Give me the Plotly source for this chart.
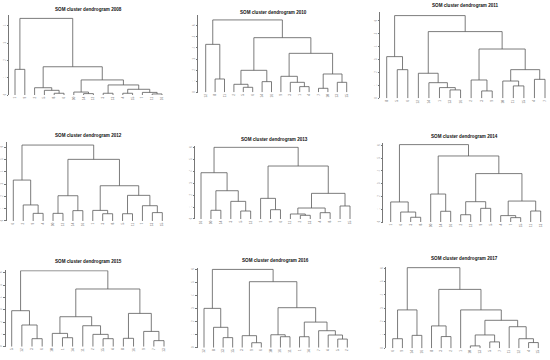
import plotly.graph_objects as go

# ---------------- data ----------------
years = [2008, 2010, 2011, 2012, 2013, 2014, 2015, 2016, 2017]

# merges: (left id, right id, height); ids 0..15 are leaves (display order), 16+ are merged clusters
merges_2008 = [(4, 5, 0.10), (3, 16, 0.27), (2, 17, 0.42), (7, 8, 0.08), (6, 19, 0.17),
               (9, 10, 0.10), (11, 12, 0.10), (14, 15, 0.06), (13, 23, 0.15), (22, 24, 0.33),
               (21, 25, 0.58), (20, 26, 0.87), (18, 27, 1.63), (0, 1, 1.48), (29, 28, 4.42)]
merges_2010 = [(1, 2, 1.20), (0, 16, 4.32), (4, 5, 0.45), (3, 18, 0.72), (6, 7, 0.96),
               (19, 20, 1.98), (10, 11, 0.51), (9, 22, 0.90), (8, 23, 1.44), (12, 13, 0.36),
               (14, 15, 0.90), (25, 26, 1.65), (24, 27, 3.51), (21, 28, 4.92), (17, 29, 6.52)]
merges_2011 = [(1, 2, 2.22), (0, 16, 3.23), (6, 7, 0.65), (5, 18, 0.83), (4, 19, 1.21),
               (3, 20, 1.94), (9, 10, 0.57), (8, 22, 1.42), (12, 13, 0.96), (11, 24, 1.34),
               (14, 15, 1.47), (25, 26, 2.22), (23, 27, 3.82), (21, 28, 5.17), (17, 29, 6.41)]
merges_2012 = [(2, 3, 0.62), (1, 16, 1.30), (0, 17, 3.32), (4, 5, 0.62), (6, 7, 0.84),
               (19, 20, 2.05), (9, 10, 0.59), (8, 22, 0.86), (11, 12, 0.59), (14, 15, 0.68),
               (13, 25, 1.24), (24, 26, 2.08), (23, 27, 2.86), (21, 28, 5.00), (18, 29, 6.16)]
merges_2013 = [(1, 2, 0.73), (4, 5, 0.67), (3, 17, 1.48), (16, 18, 2.37), (0, 19, 3.88),
               (7, 8, 0.78), (6, 21, 1.73), (10, 11, 0.31), (9, 23, 0.42), (12, 13, 0.53),
               (24, 25, 0.92), (14, 15, 1.09), (26, 27, 2.15), (22, 28, 4.44), (20, 29, 6.01)]
merges_2014 = [(2, 3, 0.37), (1, 16, 0.78), (0, 17, 1.57), (5, 6, 0.84), (4, 19, 2.19),
               (7, 8, 0.57), (9, 10, 1.07), (21, 22, 1.59), (12, 13, 0.34), (11, 24, 0.50),
               (14, 15, 0.86), (25, 26, 1.64), (23, 27, 3.79), (20, 28, 5.17), (18, 29, 6.06)]
merges_2015 = [(2, 3, 0.65), (1, 16, 1.76), (0, 17, 2.92), (5, 6, 0.73), (4, 19, 1.08),
               (9, 10, 0.65), (8, 21, 1.00), (7, 22, 1.70), (20, 23, 2.43), (11, 12, 0.68),
               (14, 15, 0.49), (13, 26, 1.24), (25, 27, 2.70), (24, 28, 4.68), (18, 29, 6.16)]
merges_2016 = [(2, 3, 0.77), (1, 16, 1.56), (0, 17, 3.01), (5, 6, 0.38), (4, 19, 0.92),
               (8, 9, 0.84), (7, 21, 0.99), (10, 11, 0.84), (14, 15, 0.66), (13, 24, 0.97),
               (12, 25, 1.30), (23, 26, 1.96), (22, 27, 3.06), (20, 28, 5.05), (18, 29, 5.99)]
merges_2017 = [(0, 1, 0.72), (2, 3, 0.97), (16, 17, 2.88), (5, 6, 0.88), (4, 19, 1.68),
               (8, 9, 0.18), (10, 11, 0.48), (21, 22, 1.00), (14, 15, 0.43), (13, 24, 0.72),
               (12, 25, 1.62), (23, 26, 2.10), (7, 27, 2.88), (20, 28, 4.42), (18, 29, 6.05)]

leaves_2008 = ["1", "9", "2", "5", "8", "6", "10", "14", "12", "3", "13", "4", "15", "7", "11", "16"]
leaves_2010 = ["12", "8", "11", "2", "5", "6", "14", "16", "9", "3", "1", "4", "7", "10", "13", "15"]
leaves_2011 = ["8", "5", "6", "12", "14", "1", "13", "16", "2", "3", "9", "10", "11", "15", "4", "7"]
leaves_2012 = ["6", "2", "9", "4", "10", "12", "14", "16", "1", "3", "8", "5", "11", "7", "13", "15"]
leaves_2013 = ["16", "10", "14", "3", "5", "12", "1", "9", "6", "11", "2", "13", "4", "8", "7", "15"]
leaves_2014 = ["1", "6", "3", "8", "10", "14", "16", "2", "12", "9", "5", "4", "7", "15", "11", "13"]
leaves_2015 = ["5", "12", "3", "6", "10", "1", "14", "11", "2", "15", "4", "8", "16", "9", "7", "13"]
leaves_2016 = ["12", "8", "13", "15", "3", "9", "6", "10", "16", "11", "1", "14", "7", "4", "5", "2"]
leaves_2017 = ["6", "9", "14", "16", "8", "3", "2", "1", "10", "13", "5", "7", "11", "12", "4", "15"]

ytick_top = [4, 6, 6, 6, 6, 6, 6, 6, 6]

all_merges = [merges_2008, merges_2010, merges_2011, merges_2012, merges_2013,
              merges_2014, merges_2015, merges_2016, merges_2017]
all_leaves = [leaves_2008, leaves_2010, leaves_2011, leaves_2012, leaves_2013,
              leaves_2014, leaves_2015, leaves_2016, leaves_2017]

# ---------------- layout geometry (pixels) ----------------
W, H = 550, 360
# axis x, first leaf x, last leaf x, leaf baseline y, px per height unit, top of axis (units), title x, title y
geom = [
    (9.0, 15.0, 162.0, 95.0, 17.33, 4.6, 88, 9),
    (198.3, 205.7, 346.7, 92.3, 11.1, 6.95, 273, 12.3),
    (380.0, 386.7, 545.0, 98.3, 12.9, 6.67, 465, 5.7),
    (6.7, 13.3, 162.3, 221.0, 12.33, 6.4, 88, 135.7),
    (195.0, 201.0, 350.0, 219.0, 11.93, 6.1, 274, 139),
    (383.3, 390.7, 540.7, 222.0, 12.77, 6.15, 464, 136),
    (5.5, 11.7, 164.0, 346.7, 12.33, 6.2, 88, 261.7),
    (197.7, 204.0, 347.3, 347.7, 13.07, 6.1, 275, 260),
    (386.0, 392.7, 538.3, 348.3, 13.33, 6.1, 464, 258),
]

LINE = "#5a5a5a"


def dendro_segments(merges, n):
    xpos = {i: float(i) for i in range(n)}
    hgt = {i: 0.0 for i in range(n)}
    X, Y = [], []
    for k, (a, b, h) in enumerate(merges):
        X += [xpos[a], xpos[a], xpos[b], xpos[b], None]
        Y += [hgt[a], h, h, hgt[b], None]
        xpos[n + k] = (xpos[a] + xpos[b]) / 2.0
        hgt[n + k] = h
    return X, Y


fig = go.Figure()
annotations = []
layout_axes = {}

for i, (yr, merges, leaves, g) in enumerate(zip(years, all_merges, all_leaves, geom)):
    ax_x, x0, x1, yb, sp, ytop, tx, ty = g
    n = len(leaves)
    X, Y = dendro_segments(merges, n)
    k = i + 1
    xa = "x" if k == 1 else f"x{k}"
    ya = "y" if k == 1 else f"y{k}"
    fig.add_trace(go.Scatter(x=X, y=Y, mode="lines", xaxis=xa, yaxis=ya,
                             line=dict(color=LINE, width=0.8), hoverinfo="skip",
                             showlegend=False))
    s = (x1 - x0) / (n - 1)
    pad = 3.0
    r0 = -(x0 - ax_x) / s
    r1 = (n - 1) + pad / s
    xdom = [ax_x / W, min(1.0, (x1 + pad) / W)]
    ydom = [1 - yb / H, 1 - (yb - sp * ytop) / H]
    xkey = "xaxis" if k == 1 else f"xaxis{k}"
    ykey = "yaxis" if k == 1 else f"yaxis{k}"
    layout_axes[xkey] = dict(domain=xdom, range=[r0, r1], anchor=ya, automargin=False,
                             showgrid=False, zeroline=False, showline=False,
                             tickmode="array", tickvals=list(range(n)), ticktext=leaves,
                             tickangle=-90, ticks="", ticklen=0,
                             tickfont=dict(size=3.2, color="#666666", family="Liberation Sans"),
                             fixedrange=True)
    layout_axes[ykey] = dict(domain=ydom, range=[0, ytop], anchor=xa, automargin=False,
                             showgrid=False, zeroline=False, showline=True,
                             linecolor="#777777", linewidth=0.6,
                             tickmode="array", tickvals=list(range(ytick_top[i] + 1)),
                             ticktext=[str(v) for v in range(ytick_top[i] + 1)],
                             ticks="outside", ticklen=1.5, tickwidth=0.6, tickcolor="#777777",
                             tickangle=-90,
                             tickfont=dict(size=2.6, color="#888888", family="Liberation Sans"),
                             fixedrange=True)
    annotations.append(dict(text=f"<b>SOM cluster dendrogram {yr}</b>",
                            x=tx / W, y=1 - ty / H, xref="paper", yref="paper",
                            xanchor="center", yanchor="middle", showarrow=False,
                            font=dict(size=4.6, color="#111111", family="Liberation Sans")))

fig.update_layout(template="none", width=W, height=H, margin=dict(l=0, r=0, t=0, b=0, pad=0),
                  paper_bgcolor="white", plot_bgcolor="white",
                  annotations=annotations, showlegend=False, **layout_axes)

fig.write_html("out.html", config={"displayModeBar": False},
               post_script="document.body.style.margin='0';document.body.style.overflow='hidden';")
